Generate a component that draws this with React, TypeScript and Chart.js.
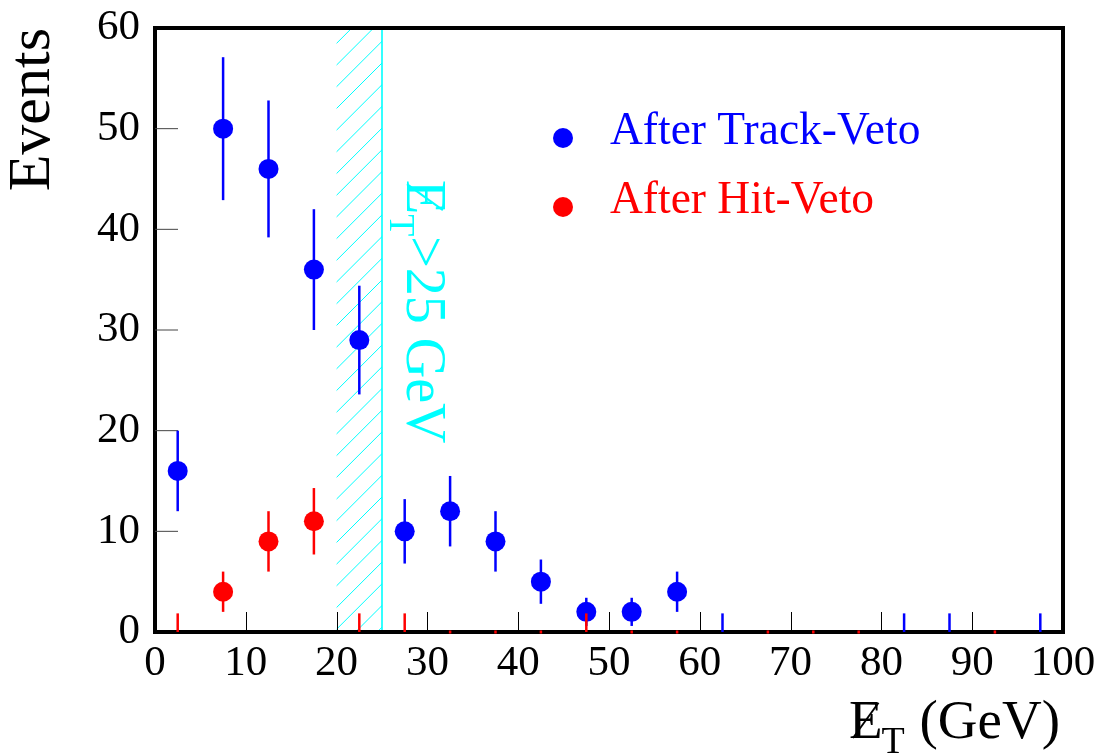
import React, { useEffect, useRef } from "react";
import { Chart, registerables } from "chart.js";

Chart.register(...registerables);

// Bin centres (GeV), 5 GeV bins
const binCenters = [2.5, 7.5, 12.5, 17.5, 22.5, 27.5, 32.5, 37.5, 42.5, 47.5, 52.5, 57.5, 62.5, 67.5, 72.5, 77.5, 82.5, 87.5, 92.5, 97.5];

// After Track-Veto (blue)
const trackVeto = [16, 50, 46, 36, 29, 10, 12, 9, 5, 2, 2, 4, 0, 0, 0, 0, 0, 0, 0, 0];
const trackVetoErrLow = [4, 7.1, 6.8, 6, 5.4, 3.2, 3.5, 3, 2.2, 1.4, 1.4, 2, 0, 0, 0, 0, 0, 0, 0, 0];
const trackVetoErrHigh = [4, 7.1, 6.8, 6, 5.4, 3.2, 3.5, 3, 2.2, 1.4, 1.4, 2, 1.85, 0, 0, 0, 1.85, 1.85, 0, 1.85];

// After Hit-Veto (red)
const hitVeto = [0, 4, 9, 11, 0, 0, 0, 0, 0, 0, 0, 0, 0, 0, 0, 0, 0, 0, 0, 0];
const hitVetoErrLow = [0, 2, 3, 3.3, 0, 0, 0.15, 0.15, 0.15, 0, 0.15, 0.15, 0, 0.15, 0.15, 0.15, 0, 0, 0.15, 0];
const hitVetoErrHigh = [1.85, 2, 3, 3.3, 1.85, 1.85, 0.15, 0.15, 0.15, 1.85, 0.15, 0.15, 0, 0.15, 0.15, 0.15, 0, 0, 0.15, 0];

const xTicks = [0, 10, 20, 30, 40, 50, 60, 70, 80, 90, 100];
const yTicks = [0, 10, 20, 30, 40, 50, 60];
const cutLow = 20;
const cutHigh = 25;

const seriesNames = ["After Track-Veto", "After Hit-Veto"];
const BLUE = "#0000ff";
const RED = "#ff0000";
const CYAN = "#00ffff";
const SERIF = "'Liberation Serif', 'Times New Roman', serif";

const errLowByDataset = [trackVetoErrLow, hitVetoErrLow];
const errHighByDataset = [trackVetoErrHigh, hitVetoErrHigh];

function drawSlashE(ctx: CanvasRenderingContext2D, x: number, y: number, size: number) {
  ctx.font = `${size}px ${SERIF}`;
  ctx.textAlign = "left";
  ctx.textBaseline = "alphabetic";
  ctx.fillText("E", x, y);
  const w = ctx.measureText("E").width;
  ctx.save();
  ctx.lineWidth = Math.max(1.5, size * 0.035);
  ctx.beginPath();
  ctx.moveTo(x + w * 0.12, y);
  ctx.lineTo(x + w * 0.88, y - size * 0.64);
  ctx.stroke();
  ctx.restore();
  return w;
}

const histPlugin = {
  id: "histPlugin",
  beforeDatasetsDraw(chart: any) {
    const { ctx, chartArea, scales } = chart;
    const xs = scales.x;
    const ys = scales.y;
    const { left, right, top, bottom } = chartArea;

    // hatched cut region
    const xa = xs.getPixelForValue(cutLow);
    const xb = xs.getPixelForValue(cutHigh);
    ctx.save();
    ctx.beginPath();
    ctx.rect(xa, top, xb - xa, bottom - top);
    ctx.clip();
    ctx.strokeStyle = CYAN;
    ctx.lineWidth = 1;
    const spacing = 21.7;
    const c0 = xa + 43.3;
    for (let c = c0 - spacing * 40; c < bottom + xb + spacing; c += spacing) {
      ctx.beginPath();
      ctx.moveTo(xa - 5, c - xa + 5);
      ctx.lineTo(xb + 5, c - xb - 5);
      ctx.stroke();
    }
    ctx.restore();

    // cut line
    ctx.save();
    ctx.strokeStyle = CYAN;
    ctx.lineWidth = 1.6;
    ctx.beginPath();
    ctx.moveTo(xb, top);
    ctx.lineTo(xb, bottom);
    ctx.stroke();
    ctx.restore();

    // rotated cut label
    ctx.save();
    ctx.fillStyle = CYAN;
    ctx.strokeStyle = CYAN;
    ctx.translate(xb + 25, top + 152);
    ctx.rotate(Math.PI / 2);
    const wE = drawSlashE(ctx, 0, 0, 56);
    ctx.font = `36px ${SERIF}`;
    ctx.fillText("T", wE, 17);
    const wT = ctx.measureText("T").width;
    ctx.font = `56px ${SERIF}`;
    ctx.fillText(">25 GeV", wE + wT, 0);
    ctx.restore();

    // frame
    ctx.save();
    ctx.strokeStyle = "#000";
    ctx.lineWidth = 4;
    ctx.strokeRect(left, top, right - left, bottom - top);
    // inner ticks
    ctx.lineWidth = 1;
    for (const v of xTicks) {
      if (v <= xs.min || v >= xs.max) continue;
      const px = Math.round(xs.getPixelForValue(v)) + 0.5;
      ctx.beginPath();
      ctx.moveTo(px, bottom);
      ctx.lineTo(px, bottom - 20);
      ctx.stroke();
    }
    ctx.strokeStyle = "#444";
    for (const v of yTicks) {
      if (v <= ys.min || v >= ys.max) continue;
      const py = ys.getPixelForValue(v);
      ctx.beginPath();
      ctx.moveTo(left, py);
      ctx.lineTo(left + 23, py);
      ctx.stroke();
    }
    ctx.restore();
  },
  beforeDatasetDraw(chart: any, args: any) {
    const { ctx, scales } = chart;
    const i = args.index;
    const ds = chart.data.datasets[i];
    const lo = errLowByDataset[i];
    const hi = errHighByDataset[i];
    ctx.save();
    ctx.strokeStyle = ds.backgroundColor;
    ctx.lineWidth = 2.5;
    ds.data.forEach((p: any, k: number) => {
      if (lo[k] === 0 && hi[k] === 0) return;
      const px = scales.x.getPixelForValue(p.x);
      const y1 = scales.y.getPixelForValue(p.y - lo[k]);
      const y2 = scales.y.getPixelForValue(p.y + hi[k]);
      ctx.beginPath();
      ctx.moveTo(px, y1);
      ctx.lineTo(px, y2);
      ctx.stroke();
    });
    ctx.restore();
  },
  afterDraw(chart: any) {
    const { ctx } = chart;
    // legend
    const entries = [
      { name: seriesNames[0], color: BLUE, y: 138 },
      { name: seriesNames[1], color: RED, y: 207 },
    ];
    ctx.save();
    for (const e of entries) {
      ctx.fillStyle = e.color;
      ctx.beginPath();
      ctx.arc(563, e.y, 10, 0, Math.PI * 2);
      ctx.fill();
      ctx.font = `45.5px ${SERIF}`;
      ctx.textAlign = "left";
      ctx.textBaseline = "alphabetic";
      ctx.fillText(e.name, 610, e.y + 6);
    }
    ctx.restore();

    // x axis title
    ctx.save();
    ctx.fillStyle = "#000";
    ctx.strokeStyle = "#000";
    ctx.font = `55px ${SERIF}`;
    const wE = ctx.measureText("E").width;
    const rest = " (GeV)";
    const wRest = ctx.measureText(rest).width;
    ctx.font = `38px ${SERIF}`;
    const wT = ctx.measureText("T").width;
    const endX = chart.chartArea.right - 3;
    const x0 = endX - (wE + wT + wRest);
    const base = 738;
    drawSlashE(ctx, x0, base, 55);
    ctx.font = `38px ${SERIF}`;
    ctx.fillText("T", x0 + wE - 1, base + 15);
    ctx.font = `55px ${SERIF}`;
    ctx.fillText(rest, x0 + wE + wT, base);
    ctx.restore();
  },
};

export default function App() {
  const ref = useRef<HTMLCanvasElement | null>(null);

  useEffect(() => {
    if (!ref.current) return;
    const chart = new Chart(ref.current, {
      type: "scatter",
      data: {
        datasets: [
          {
            label: seriesNames[0],
            data: binCenters.map((x, k) => ({ x, y: trackVeto[k] })),
            backgroundColor: BLUE,
            borderColor: BLUE,
            borderWidth: 0,
            pointRadius: (c: any) => (c.raw && c.raw.y > 0 ? 10 : 0),
            pointHoverRadius: (c: any) => (c.raw && c.raw.y > 0 ? 10 : 0),
            order: 1,
          },
          {
            label: seriesNames[1],
            data: binCenters.map((x, k) => ({ x, y: hitVeto[k] })),
            backgroundColor: RED,
            borderColor: RED,
            borderWidth: 0,
            pointRadius: (c: any) => (c.raw && c.raw.y > 0 ? 10 : 0),
            pointHoverRadius: (c: any) => (c.raw && c.raw.y > 0 ? 10 : 0),
            order: 0,
          },
        ],
      },
      options: {
        responsive: false,
        animation: false,
        devicePixelRatio: 1,
        events: [],
        clip: false,
        layout: { padding: { left: 0, top: 28, right: 38, bottom: 0 }, autoPadding: false },
        plugins: {
          legend: { display: false },
          tooltip: { enabled: false },
        },
        scales: {
          x: {
            type: "linear",
            min: 0,
            max: 100,
            grid: { display: false, drawTicks: false },
            border: { display: false },
            afterBuildTicks: (s: any) => {
              s.ticks = xTicks.map((v) => ({ value: v }));
            },
            afterFit: (s: any) => {
              s.height = 123;
              s.paddingLeft = 0;
              s.paddingRight = 0;
            },
            ticks: {
              autoSkip: false,
              maxRotation: 0,
              padding: 6,
              color: "#000",
              font: { family: SERIF, size: 43 },
            },
          },
          y: {
            type: "linear",
            min: 0,
            max: 60,
            grid: { display: false, drawTicks: false },
            border: { display: false },
            afterBuildTicks: (s: any) => {
              s.ticks = yTicks.map((v) => ({ value: v }));
            },
            afterFit: (s: any) => {
              s.width = 155;
              s.paddingTop = 0;
              s.paddingBottom = 0;
            },
            title: {
              display: true,
              text: "Events",
              align: "end",
              color: "#000",
              font: { family: SERIF, size: 60, lineHeight: 1 },
              padding: { top: 3, bottom: 0 },
            },
            ticks: {
              autoSkip: false,
              padding: 15,
              color: "#000",
              font: { family: SERIF, size: 43 },
            },
          },
        },
      },
      plugins: [histPlugin],
    } as any);
    return () => chart.destroy();
  }, []);

  return (
    <div style={{ position: "absolute", left: 0, top: 0, width: 1101, height: 755, background: "#fff" }}>
      <canvas ref={ref} width={1101} height={755} style={{ display: "block" }} />
    </div>
  );
}
